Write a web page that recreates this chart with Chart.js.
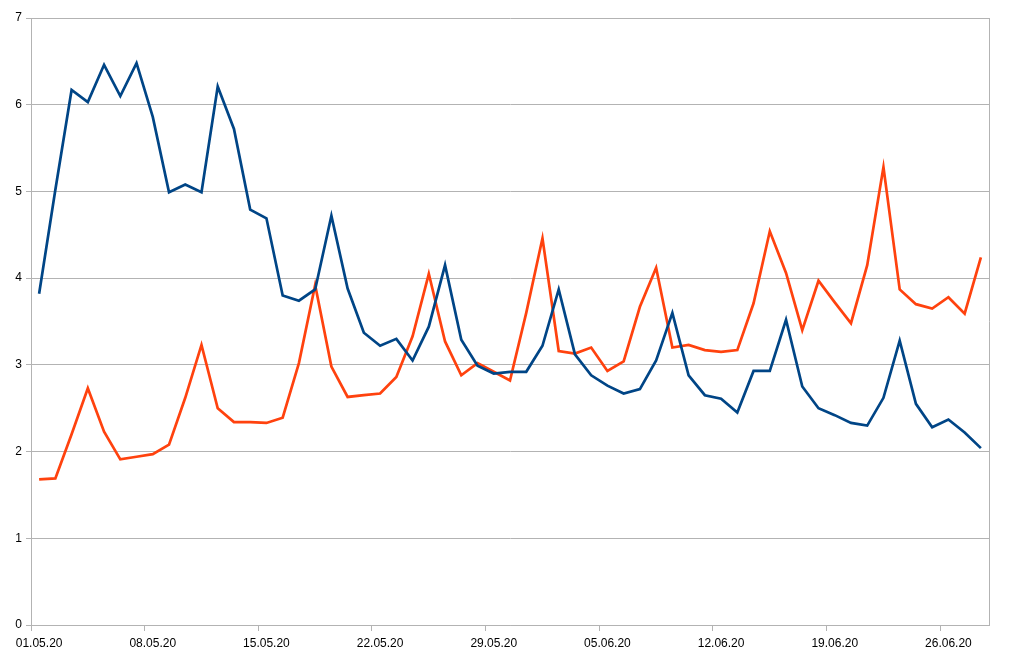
<!DOCTYPE html>
<html lang="en">
<head>
    <meta charset="UTF-8">
    <title>Daily values May - June 2020</title>
    <script src="https://cdn.jsdelivr.net/npm/chart.js"></script>
    <style>
        body {
            margin: 0;
            background: #ffffff;
        }
        #wrap {
            width: 1010px;
            height: 664px;
        }
    </style>
</head>
<body>
<div id="wrap">
    <canvas id="chart" width="1010" height="664"></canvas>
</div>

<script>
const dates = [
    '01.05.20', '02.05.20', '03.05.20', '04.05.20', '05.05.20', '06.05.20', '07.05.20',
    '08.05.20', '09.05.20', '10.05.20', '11.05.20', '12.05.20', '13.05.20', '14.05.20',
    '15.05.20', '16.05.20', '17.05.20', '18.05.20', '19.05.20', '20.05.20', '21.05.20',
    '22.05.20', '23.05.20', '24.05.20', '25.05.20', '26.05.20', '27.05.20', '28.05.20',
    '29.05.20', '30.05.20', '31.05.20', '01.06.20', '02.06.20', '03.06.20', '04.06.20',
    '05.06.20', '06.06.20', '07.06.20', '08.06.20', '09.06.20', '10.06.20', '11.06.20',
    '12.06.20', '13.06.20', '14.06.20', '15.06.20', '16.06.20', '17.06.20', '18.06.20',
    '19.06.20', '20.06.20', '21.06.20', '22.06.20', '23.06.20', '24.06.20', '25.06.20',
    '26.06.20', '27.06.20', '28.06.20'
];

// dark blue series
const seriesBlue = [
    3.82, 5.02, 6.17, 6.03, 6.46, 6.10, 6.48,
    5.86, 4.99, 5.08, 4.99, 6.21, 5.72, 4.79,
    4.69, 3.80, 3.74, 3.87, 4.72, 3.88, 3.37,
    3.22, 3.30, 3.05, 3.44, 4.15, 3.29, 2.99,
    2.90, 2.92, 2.92, 3.22, 3.87, 3.12, 2.88,
    2.76, 2.67, 2.72, 3.05, 3.60, 2.88, 2.65,
    2.61, 2.45, 2.93, 2.93, 3.52, 2.75, 2.50,
    2.42, 2.33, 2.30, 2.62, 3.28, 2.55, 2.28,
    2.37, 2.22, 2.04
];

// orange series
const seriesOrange = [
    1.68, 1.69, 2.20, 2.73, 2.23, 1.91, 1.94,
    1.97, 2.08, 2.62, 3.23, 2.50, 2.34, 2.34,
    2.33, 2.39, 3.02, 3.92, 2.98, 2.63, 2.65,
    2.67, 2.86, 3.33, 4.05, 3.27, 2.88, 3.02,
    2.92, 2.82, 3.60, 4.46, 3.16, 3.13, 3.20,
    2.93, 3.04, 3.67, 4.12, 3.20, 3.23, 3.17,
    3.15, 3.17, 3.71, 4.54, 4.06, 3.40, 3.97,
    3.72, 3.48, 4.15, 5.28, 3.87, 3.70, 3.65,
    3.78, 3.59, 4.24
];

const yTicks = [0, 1, 2, 3, 4, 5, 6, 7];
const labelEvery = 7;

const gridGrey = '#b3b3b3';

// right-hand frame line of the plot area
const frameRight = {
    id: 'frameRight',
    afterDraw(chart) {
        const { ctx, chartArea } = chart;
        ctx.save();
        ctx.strokeStyle = gridGrey;
        ctx.lineWidth = 1;
        ctx.beginPath();
        ctx.moveTo(Math.round(chartArea.right) + 0.5, chartArea.top);
        ctx.lineTo(Math.round(chartArea.right) + 0.5, chartArea.bottom);
        ctx.stroke();
        ctx.restore();
    }
};

Chart.defaults.font.family = '"Liberation Sans", Arial, sans-serif';
Chart.defaults.font.size = 12;
Chart.defaults.color = '#000000';

new Chart(document.getElementById('chart').getContext('2d'), {
    type: 'line',
    data: {
        labels: dates,
        datasets: [
            {
                label: 'Series 1',
                data: seriesBlue,
                borderColor: '#004586',
                backgroundColor: '#004586',
                borderWidth: 2.7,
                pointRadius: 0,
                tension: 0
            },
            {
                label: 'Series 2',
                data: seriesOrange,
                borderColor: '#ff420e',
                backgroundColor: '#ff420e',
                borderWidth: 2.7,
                pointRadius: 0,
                tension: 0
            }
        ]
    },
    options: {
        responsive: false,
        animation: false,
        layout: {
            padding: { top: 18, right: 21, left: 0, bottom: 0 }
        },
        plugins: {
            legend: { display: false },
            tooltip: { enabled: false }
        },
        scales: {
            x: {
                offset: true,
                afterFit: scale => { scale.height = 39; },
                border: { color: gridGrey, width: 1 },
                grid: {
                    offset: true,
                    drawOnChartArea: false,
                    drawTicks: true,
                    tickLength: 6,
                    tickColor: ctx => (ctx.index % labelEvery === 0 && ctx.index < dates.length) ? gridGrey : 'rgba(0,0,0,0)'
                },
                ticks: {
                    autoSkip: false,
                    maxRotation: 0,
                    padding: 5,
                    color: '#000000',
                    callback: function (value, index) {
                        return index % labelEvery === 0 ? dates[index] : '';
                    }
                }
            },
            y: {
                min: yTicks[0],
                max: yTicks[yTicks.length - 1],
                afterFit: scale => { scale.width = 31; },
                border: { color: gridGrey, width: 1 },
                grid: {
                    color: gridGrey,
                    tickLength: 5
                },
                ticks: {
                    stepSize: 1,
                    padding: 4,
                    color: '#000000'
                }
            }
        }
    },
    plugins: [frameRight]
});
</script>
</body>
</html>
